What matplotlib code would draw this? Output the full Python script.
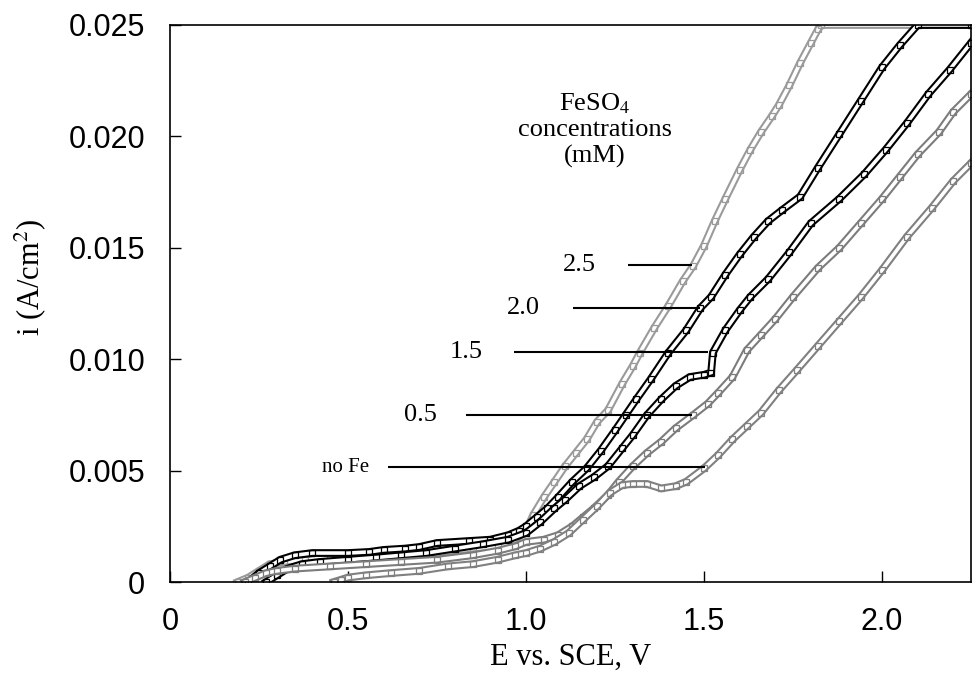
import matplotlib
matplotlib.use("Agg")
import matplotlib.pyplot as plt
import matplotlib.patheffects as pe

plt.rcParams['font.family'] = ['Liberation Sans', 'DejaVu Sans']
plt.rcParams['mathtext.fontset'] = 'stix'

# ---- data (E vs. SCE in V, current density in A/cm^2) ----
E_25 = [0.19, 0.22, 0.25, 0.28, 0.32, 0.38, 0.45, 0.55, 0.65, 0.75, 0.85, 0.92, 0.97, 1.00,
        1.02, 1.05, 1.08, 1.11, 1.14, 1.17, 1.20, 1.23, 1.27, 1.30, 1.32, 1.36, 1.40, 1.44,
        1.47, 1.50, 1.53, 1.56, 1.60, 1.63, 1.66, 1.69, 1.71, 1.74, 1.77, 1.80, 1.82, 1.83, 2.25]
i_25 = [0.0, 0.0002, 0.0005, 0.0008, 0.0009, 0.0010, 0.0011, 0.0011, 0.0012, 0.0013, 0.0015, 0.0016,
        0.0019, 0.0023, 0.0030, 0.0038, 0.0045, 0.0052, 0.0058, 0.0064, 0.0072, 0.0077, 0.0089,
        0.0097, 0.0103, 0.0114, 0.0124, 0.0135, 0.0142, 0.0151, 0.0162, 0.0172, 0.0185, 0.0194,
        0.0202, 0.0209, 0.0214, 0.0223, 0.0233, 0.0242, 0.0248, 0.0250, 0.0250]

E_20 = [0.22, 0.25, 0.28, 0.31, 0.35, 0.40, 0.50, 0.56, 0.60, 0.66, 0.70, 0.75, 0.84, 0.90, 0.95,
        0.98, 1.00, 1.03, 1.06, 1.09, 1.13, 1.17, 1.21, 1.25, 1.28, 1.31, 1.35, 1.40, 1.45, 1.49,
        1.52, 1.56, 1.60, 1.64, 1.68, 1.72, 1.77, 1.82, 1.88, 1.94, 2.00, 2.05, 2.10, 2.25]
i_20 = [0.0, 0.0004, 0.0007, 0.0010, 0.0012, 0.0013, 0.0013, 0.00135, 0.00144, 0.0015, 0.00157,
        0.00175, 0.00184, 0.0019, 0.0021, 0.0023, 0.0025, 0.0029, 0.0033, 0.0038, 0.0045, 0.0051,
        0.0059, 0.0068, 0.0075, 0.0082, 0.0091, 0.0103, 0.0113, 0.0123, 0.0128, 0.0138, 0.0147,
        0.0155, 0.0162, 0.0167, 0.0173, 0.0186, 0.0201, 0.0216, 0.0231, 0.0241, 0.0250, 0.0250]

E_15 = [0.27, 0.30, 0.33, 0.37, 0.42, 0.50, 0.58, 0.65, 0.72, 0.80, 0.88, 0.95, 1.00, 1.04, 1.08,
        1.11, 1.15, 1.19, 1.23, 1.27, 1.30, 1.34, 1.38, 1.42, 1.46, 1.50, 1.52, 1.525, 1.56, 1.60,
        1.63, 1.68, 1.74, 1.80, 1.88, 1.95, 2.01, 2.07, 2.13, 2.19, 2.25]
i_15 = [0.0, 0.0003, 0.0006, 0.0008, 0.0009, 0.0010, 0.0011, 0.0012, 0.0013, 0.0015, 0.0017,
        0.0019, 0.0022, 0.0027, 0.0033, 0.0037, 0.0043, 0.0047, 0.0052, 0.0060, 0.0066, 0.0075,
        0.0082, 0.0088, 0.0092, 0.0093, 0.0094, 0.0103, 0.0113, 0.0122, 0.0128, 0.0136, 0.0148,
        0.0161, 0.0172, 0.0183, 0.0194, 0.0206, 0.0219, 0.0230, 0.0242]

E_05 = [0.21, 0.24, 0.27, 0.30, 0.35, 0.45, 0.55, 0.65, 0.75, 0.85, 0.92, 0.97, 1.00, 1.05, 1.09,
        1.13, 1.16, 1.19, 1.23, 1.26, 1.30, 1.34, 1.38, 1.42, 1.47, 1.51, 1.54, 1.58, 1.62, 1.66,
        1.70, 1.75, 1.82, 1.88, 1.94, 2.00, 2.05, 2.10, 2.16, 2.20, 2.25]
i_05 = [0.0, 0.0002, 0.0004, 0.0005, 0.0006, 0.0007, 0.0008, 0.0009, 0.0010, 0.0012, 0.0014,
        0.0016, 0.0018, 0.0019, 0.0021, 0.0025, 0.0029, 0.0033, 0.0039, 0.0045, 0.0052, 0.0058,
        0.0063, 0.0069, 0.0075, 0.0080, 0.0085, 0.0092, 0.0104, 0.0111, 0.0118, 0.0128, 0.0141,
        0.0150, 0.0161, 0.0172, 0.0182, 0.0192, 0.0202, 0.0211, 0.0219]

E_nofe = [0.46, 0.48, 0.50, 0.55, 0.62, 0.70, 0.78, 0.85, 0.92, 0.97, 1.00, 1.04, 1.08, 1.12, 1.16,
          1.20, 1.235, 1.27, 1.30, 1.34, 1.38, 1.42, 1.45, 1.50, 1.54, 1.58, 1.62, 1.66, 1.71, 1.76,
          1.82, 1.88, 1.94, 2.00, 2.07, 2.14, 2.20, 2.25]
i_nofe = [0.0, 0.0001, 0.0002, 0.0003, 0.0004, 0.0005, 0.0007, 0.0008, 0.0010, 0.0012, 0.0013,
          0.0015, 0.0018, 0.0022, 0.0028, 0.0034, 0.0040, 0.00435, 0.0044, 0.0044, 0.0042, 0.0043,
          0.0045, 0.0051, 0.0057, 0.0064, 0.0070, 0.0076, 0.0086, 0.0095, 0.0106, 0.0117, 0.0128,
          0.0140, 0.0155, 0.0168, 0.0180, 0.0188]

labels = ["2.5", "2.0", "1.5", "0.5", "no Fe"]
x_ticks = [0, 0.5, 1.0, 1.5, 2.0]
x_ticklabels = ["0", "0.5", "1.0", "1.5", "2.0"]
y_ticks = [0, 0.005, 0.010, 0.015, 0.020, 0.025]
y_ticklabels = ["0", "0.005", "0.010", "0.015", "0.020", "0.025"]

# label placement (text center x, leader start x, leader end x, y)
label_pos = [(1.149, 1.287, 1.467, 0.01423),
             (0.993, 1.132, 1.489, 0.01230),
             (0.832, 0.966, 1.512, 0.01032),
             (0.703, 0.831, 1.467, 0.00750),
             (0.494, 0.612, 1.503, 0.00516)]

series = [(E_25, i_25, '#9a9a9a'),
          (E_20, i_20, '#000000'),
          (E_15, i_15, '#000000'),
          (E_05, i_05, '#7c7c7c'),
          (E_nofe, i_nofe, '#808080')]

fig = plt.figure(figsize=(9.74, 6.75), dpi=100)
ax = fig.add_axes([170 / 974, 93 / 675, 801 / 974, 557 / 675])

# each trace drawn as a hollow band, like a dense run of open square markers
for k, (E, I, c) in enumerate(series):
    ax.plot(E, I, color='white', lw=2.6, solid_joinstyle='miter', zorder=3 + k * 0.1,
            path_effects=[pe.Stroke(linewidth=5.6, foreground=c), pe.Normal()])
    ax.plot(E, I, linestyle='none', marker='s', ms=4.4, mfc='none', mec=c, mew=0.9,
            zorder=3.05 + k * 0.1)

serif = ['Liberation Serif', 'DejaVu Serif']
for (lab, (tx, x0, x1, y)) in zip(labels, label_pos):
    ax.hlines(y, x0, x1, color='black', lw=1.5, zorder=4)
    fs = 15 if lab == "no Fe" else 19
    ax.text(tx, y, lab, ha='center', va='center', fontsize=fs, family=serif)

ax.text(1.194, 0.0203, "FeSO$_4$\nconcentrations\n(mM)", ha='center', va='center',
        fontsize=19, family=serif, linespacing=1.2)

ax.set_xlim(0, 2.25)
ax.set_ylim(0, 0.025)
ax.set_xticks(x_ticks)
ax.set_xticklabels(x_ticklabels)
ax.set_yticks(y_ticks)
ax.set_yticklabels(y_ticklabels)
ax.tick_params(direction='in', length=8, width=1, labelsize=22, pad=18)
for s in ax.spines.values():
    s.set_linewidth(1.2)
    s.set_zorder(5)

ax.set_xlabel("E vs. SCE, V", family=serif, fontsize=22, labelpad=4)
fig.text(30 / 974, (675 - 277) / 675, "i (A/cm$^2$)", rotation=90, ha='center', va='center',
         family=serif, fontsize=22)

fig.savefig("out.png", dpi=100)
